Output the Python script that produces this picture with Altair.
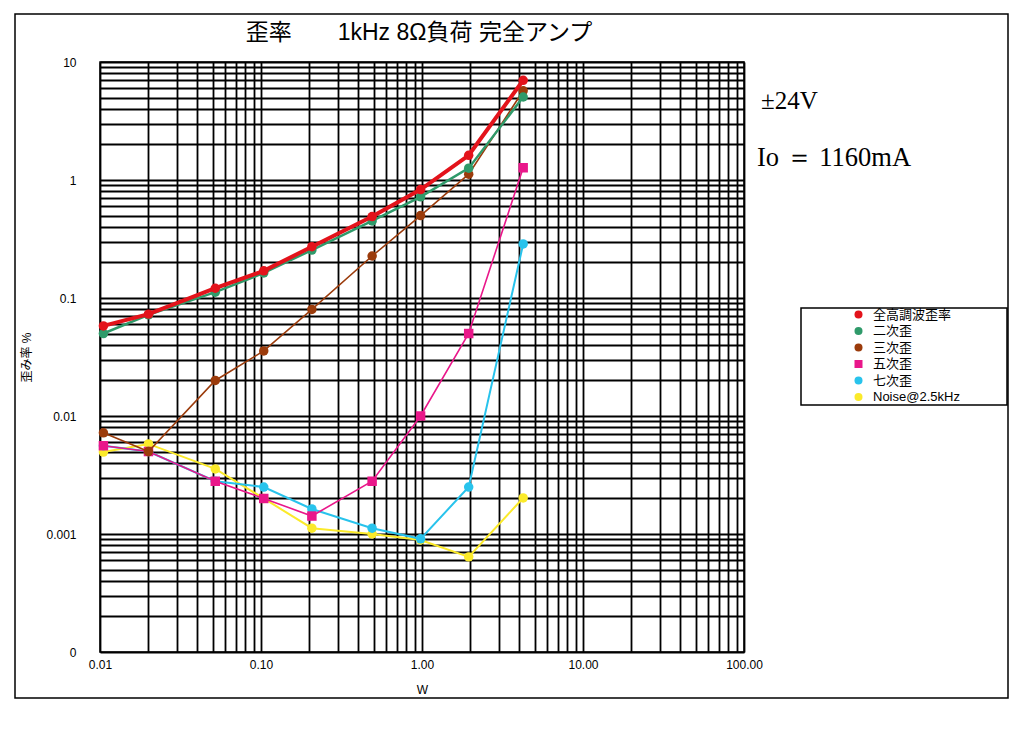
import altair as alt
import pandas as pd

# ---- data ----
watts = [0.0105, 0.02, 0.052, 0.104, 0.207, 0.49, 0.98, 1.95, 4.25]
series_names = ["全高調波歪率", "二次歪", "三次歪", "五次歪", "七次歪", "Noise@2.5kHz"]
thd = [0.058, 0.073, 0.121, 0.17, 0.272, 0.49, 0.83, 1.62, 7.0]
h2 = [0.050, 0.072, 0.112, 0.163, 0.255, 0.45, 0.72, 1.26, 5.05]
h3 = [0.0072, 0.0050, 0.020, 0.0356, 0.080, 0.227, 0.50, 1.12, 5.7]
h5 = [0.0056, 0.0050, 0.0028, 0.0020, 0.00142, 0.0028, 0.0100, 0.050, 1.27]
h7 = [0.0056, 0.0050, 0.0028, 0.0025, 0.00163, 0.00112, 0.00091, 0.0025, 0.287]
noise = [0.00495, 0.0058, 0.00356, 0.0020, 0.00112, 0.0010, 0.00089, 0.00064, 0.00202]

colors = ["#e3131b", "#2f9a6a", "#9b3b0b", "#e9178a", "#28c3ec", "#fbea2a"]
shapes = ["circle", "circle", "circle", "square", "circle", "circle"]
line_widths = [4, 2.5, 1.6, 1.6, 2, 2]

x_tick_values = [0.01, 0.1, 1, 10, 100]
x_tick_labels = ["0.01", "0.10", "1.00", "10.00", "100.00"]
y_tick_values = [0.0001, 0.001, 0.01, 0.1, 1, 10]
y_tick_labels = ["0", "0.001", "0.01", "0.1", "1", "10"]

title_text = ["歪率　　1kHz 8Ω負荷 完全アンプ"]
note_voltage = ["±24V"]
note_current = ["Io ＝ 1160mA"]

# ---- build table ----
all_values = [thd, h2, h3, h5, h7, noise]
rows = []
for name, vals in zip(series_names, all_values):
    for w, v in zip(watts, vals):
        rows.append({"series": name, "W": w, "pct": v})
df = pd.DataFrame(rows)

x_grid = [m * 10.0 ** e for e in range(-2, 2) for m in range(1, 10)] + [100.0]
y_grid = [m * 10.0 ** e for e in range(-4, 1) for m in range(1, 10)] + [10.0]


def label_expr(values, labels):
    expr = "''"
    for v, lab in zip(reversed(values), reversed(labels)):
        expr = f"abs(datum.value - {v}) < {v} * 0.001 ? '{lab}' : ({expr})"
    return expr


W = 644
H = 590

x_enc = alt.X(
    "W:Q",
    scale=alt.Scale(type="log", domain=[0.01, 100], nice=False),
    axis=alt.Axis(values=x_grid, labelExpr=label_expr(x_tick_values, x_tick_labels),
                  title="W", labelPadding=7, titlePadding=14),
)
y_enc = alt.Y(
    "pct:Q",
    scale=alt.Scale(type="log", domain=[0.0001, 10], nice=False),
    axis=alt.Axis(values=y_grid, labelExpr=label_expr(y_tick_values, y_tick_labels),
                  title="歪み率 %", labelPadding=24, titlePadding=12),
)

color_scale = alt.Scale(domain=series_names, range=colors)
shape_scale = alt.Scale(domain=series_names, range=shapes)

layers = []

# outer frame
frame_df = pd.DataFrame({"k": [0]})
layers.append(
    alt.Chart(frame_df).mark_rect(fillOpacity=0, stroke="black", strokeWidth=1.5).encode(
        x=alt.value(-85), x2=alt.value(908), y=alt.value(-48), y2=alt.value(636)
    )
)

base = alt.Chart(df)
# draw in reverse order so the first series ends up on top
for idx in reversed(range(len(series_names))):
    name = series_names[idx]
    sub = base.transform_filter(alt.datum.series == name)
    layers.append(
        sub.mark_line(color=colors[idx], strokeWidth=line_widths[idx]).encode(x=x_enc, y=y_enc)
    )
    layers.append(
        sub.mark_point(filled=True, size=90, opacity=1).encode(
            x=x_enc,
            y=y_enc,
            color=alt.Color("series:N", scale=color_scale, legend=alt.Legend(title=None)),
            shape=alt.Shape("series:N", scale=shape_scale, legend=alt.Legend(title=None)),
        )
    )

# legend box
layers.append(
    alt.Chart(frame_df).mark_rect(fillOpacity=0, stroke="black", strokeWidth=1.5).encode(
        x=alt.value(701), x2=alt.value(907), y=alt.value(246), y2=alt.value(343)
    )
)

# title
layers.append(
    alt.Chart(pd.DataFrame({"t": title_text})).mark_text(
        font="Liberation Sans, Noto Sans CJK JP", fontSize=23, align="center",
        baseline="alphabetic", color="black"
    ).encode(text="t:N", x=alt.value(W / 2 - 3), y=alt.value(-22))
)

# annotations
layers.append(
    alt.Chart(pd.DataFrame({"t": note_voltage})).mark_text(
        font="Liberation Serif", fontSize=25, align="left", baseline="alphabetic", color="black"
    ).encode(text="t:N", x=alt.value(661), y=alt.value(47))
)
layers.append(
    alt.Chart(pd.DataFrame({"t": note_current})).mark_text(
        font="Liberation Serif", fontSize=26.5, align="left", baseline="alphabetic", color="black"
    ).encode(text="t:N", x=alt.value(657), y=alt.value(104))
)

chart = (
    alt.layer(*layers)
    .properties(
        width=W,
        height=H,
        autosize=alt.AutoSizeParams(type="none"),
        padding={"left": 92, "top": 54, "right": 272, "bottom": 72},
    )
    .configure_view(stroke="black", strokeWidth=1.5)
    .configure_axis(
        grid=True,
        gridColor="black",
        gridWidth=1.8,
        gridOpacity=1,
        ticks=False,
        domain=False,
        labelFont="Liberation Sans",
        labelFontSize=12,
        labelColor="black",
        titleFont="Liberation Sans, Noto Sans CJK JP",
        titleFontSize=12,
        titleFontWeight="normal",
        titleColor="black",
        labelFlush=False,
        labelOverlap=False,
    )
    .configure_legend(
        orient="none",
        legendX=752,
        legendY=246,
        padding=0,
        labelFont="Liberation Sans, Noto Sans CJK JP",
        labelFontSize=13,
        labelColor="black",
        symbolSize=64,
        rowPadding=2.5,
        labelOffset=8,
        symbolStrokeWidth=0,
    )
)

chart.save("out.html", embed_options={"renderer": "svg", "actions": False})
